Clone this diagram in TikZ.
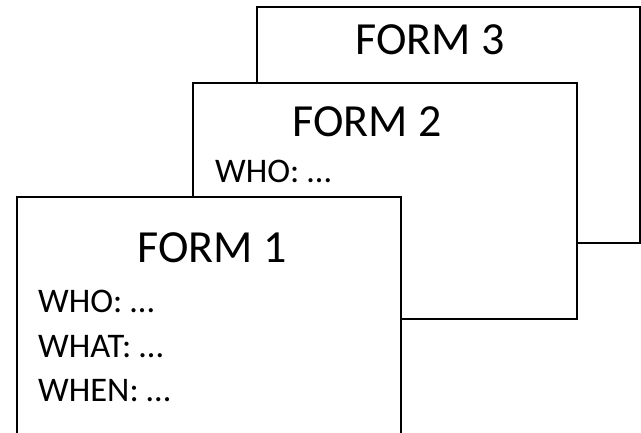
\documentclass[tikz,border=0pt]{standalone}
\usepackage{fontspec}
\setmainfont{Carlito}
\begin{document}
\begin{tikzpicture}[x=1pt,y=1pt,
  form/.style={draw=black,line width=1.8pt,fill=white,anchor=north west,inner sep=0pt,outer sep=0pt},
  title/.style={anchor=base,inner sep=0pt,font=\fontsize{46}{46}\selectfont},
  field/.style={anchor=base west,inner sep=0pt,font=\fontsize{34.5}{34.5}\selectfont}]
\useasboundingbox (0,0) rectangle (641,432);
\node[form,minimum width=383pt,minimum height=236pt] (f3) at (257,425) {};
\node[title] (t3) at (430,377) {FORM 3};
\node[form,minimum width=384pt,minimum height=236pt] (f2) at (193,349) {};
\node[title] (t2) at (367,295) {FORM 2};
\node[field] (w2) at (215,249) {WHO: …};
\node[form,minimum width=384pt,minimum height=260pt] (f1) at (17,235) {};
\node[title] (t1) at (212,169) {FORM 1};
\node[field] (who1) at (38,120) {WHO: …};
\node[field] (what1) at (38,75) {WHAT: …};
\node[field] (when1) at (38,31) {WHEN: …};
\end{tikzpicture}
\end{document}
